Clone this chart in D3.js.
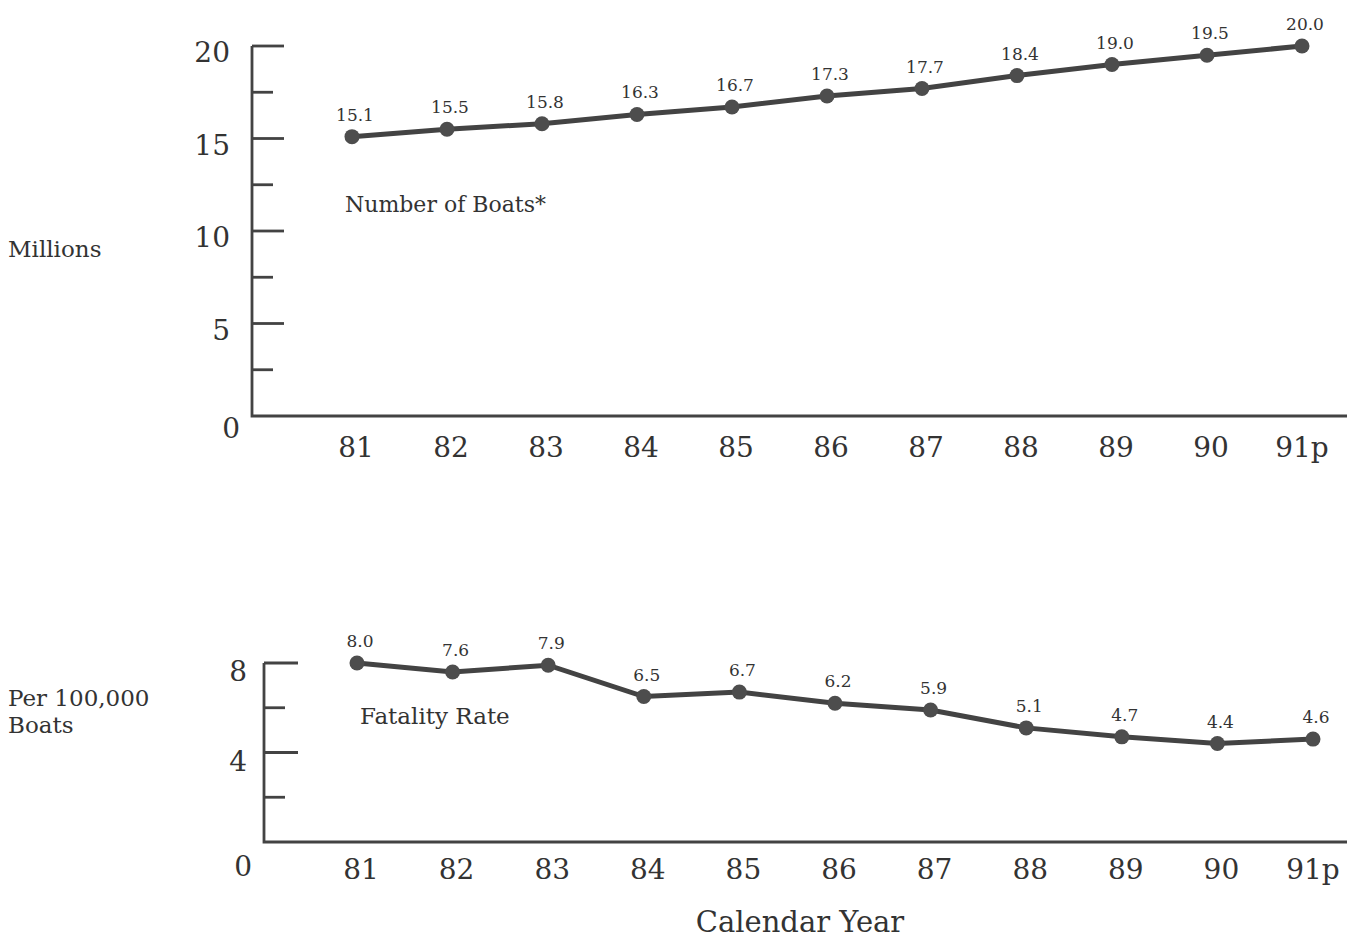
<!DOCTYPE html>
<html>
<head>
<meta charset="utf-8">
<script src="https://cdn.jsdelivr.net/npm/d3@7"></script>
<style>
  body { margin: 0; background: #fff; }
  svg text { font-family: "DejaVu Serif", "Liberation Serif", serif; fill: #333; }
</style>
</head>
<body>
<div id="chart"></div>
<script>
var years = ["81", "82", "83", "84", "85", "86", "87", "88", "89", "90", "91p"];
var boats = [15.1, 15.5, 15.8, 16.3, 16.7, 17.3, 17.7, 18.4, 19.0, 19.5, 20.0];
var fatality = [8.0, 7.6, 7.9, 6.5, 6.7, 6.2, 5.9, 5.1, 4.7, 4.4, 4.6];
var boatTicks = [0, 5, 10, 15, 20];
var boatMinor = [2.5, 7.5, 12.5, 17.5];
var rateTicks = [0, 4, 8];
var rateMinor = [2, 6];

var ink = "#434343";

var svg = d3.select("#chart")
    .append("svg")
    .attr("width", 1347)
    .attr("height", 951);

// draws one panel: axis, ticks, line, dots, labels
function panel(opt) {
    var x = d3.scalePoint().domain(years).range(opt.xRange);
    var y = d3.scaleLinear().domain(opt.domain).range(opt.yRange);
    var g = svg.append("g");

    // vertical axis + baseline
    g.append("path")
        .attr("d", "M" + opt.axisX + "," + y(opt.domain[1]) + "V" + y(0) + "H1347")
        .attr("fill", "none")
        .attr("stroke", ink)
        .attr("stroke-width", 2.8);

    g.selectAll(".major").data(opt.ticks.filter(d => d > 0))
        .enter().append("line")
        .attr("x1", opt.axisX).attr("x2", opt.axisX + opt.tickLen)
        .attr("y1", d => y(d)).attr("y2", d => y(d))
        .attr("stroke", ink).attr("stroke-width", 2.8);

    g.selectAll(".minor").data(opt.minor)
        .enter().append("line")
        .attr("x1", opt.axisX).attr("x2", opt.axisX + 21)
        .attr("y1", d => y(d)).attr("y2", d => y(d))
        .attr("stroke", ink).attr("stroke-width", 2.8);

    g.selectAll(".ylab").data(opt.ticks)
        .enter().append("text")
        .attr("x", d => d == 0 ? opt.axisX - 12 : opt.axisX - opt.labGap)
        .attr("y", d => d == 0 ? y(0) + opt.zeroDy : y(d) + opt.labDy)
        .attr("text-anchor", "end")
        .style("font-size", "28px")
        .text(d => d);

    g.selectAll(".xlab").data(years)
        .enter().append("text")
        .attr("x", d => x(d) + (d == "91p" ? 0 : 4))
        .attr("y", opt.labelY)
        .attr("text-anchor", "middle")
        .style("font-size", "28px")
        .text(d => d);

    var line = d3.line()
        .x((d, i) => x(years[i]))
        .y(d => y(d));

    g.append("path")
        .datum(opt.values)
        .attr("d", line)
        .attr("fill", "none")
        .attr("stroke", ink)
        .attr("stroke-width", 5);

    g.selectAll(".dot").data(opt.values)
        .enter().append("circle")
        .attr("cx", (d, i) => x(years[i]))
        .attr("cy", d => y(d))
        .attr("r", 7.5)
        .attr("fill", "#4d4d4d");

    g.selectAll(".val").data(opt.values)
        .enter().append("text")
        .attr("x", (d, i) => x(years[i]) + 3)
        .attr("y", d => y(d) - 16)
        .attr("text-anchor", "middle")
        .style("font-size", "17px")
        .text(d => d.toFixed(1));

    return g;
}

panel({
    values: boats, domain: [0, 20], ticks: boatTicks, minor: boatMinor,
    xRange: [352, 1302], yRange: [416, 46], axisX: 252, labelY: 457,
    tickLen: 32, labGap: 22, labDy: 16, zeroDy: 22
});

panel({
    values: fatality, domain: [0, 8], ticks: rateTicks, minor: rateMinor,
    xRange: [357, 1313], yRange: [842, 663], axisX: 264, labelY: 879,
    tickLen: 34, labGap: 17, labDy: 18, zeroDy: 34
});

svg.append("text").attr("x", 345).attr("y", 212)
    .style("font-size", "22px").text("Number of Boats*");
svg.append("text").attr("x", 8).attr("y", 257)
    .style("font-size", "23px").text("Millions");
svg.append("text").attr("x", 360).attr("y", 724)
    .style("font-size", "23px").text("Fatality Rate");
svg.append("text").attr("x", 8).attr("y", 706)
    .style("font-size", "23px").text("Per 100,000");
svg.append("text").attr("x", 8).attr("y", 733)
    .style("font-size", "23px").text("Boats");
svg.append("text").attr("x", 800).attr("y", 932)
    .attr("text-anchor", "middle")
    .style("font-size", "29px").text("Calendar Year");
</script>
</body>
</html>
